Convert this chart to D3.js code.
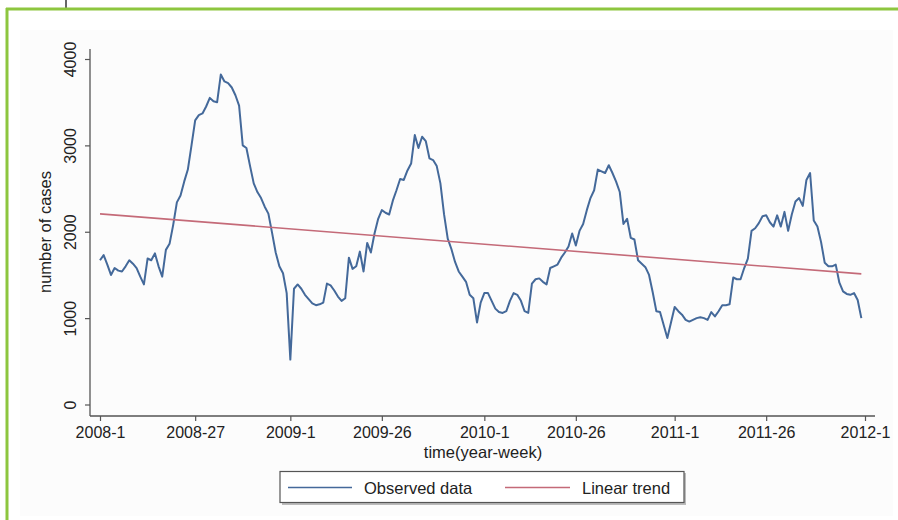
<!DOCTYPE html>
<html>
<head>
<meta charset="utf-8">
<script src="https://cdn.jsdelivr.net/npm/d3@7"></script>
<style>
  html, body { margin: 0; padding: 0; background: #ffffff; }
  svg { display: block; font-family: "Liberation Sans", Arial, sans-serif; }
</style>
</head>
<body>
<svg id="chart" width="898" height="520"></svg>
<script>
// Weekly observed number of cases, 2008-1 .. 2011-52 (week index 0..208)
const cases = [
  1670,1730,1620,1500,1580,1550,1540,1600,1670,1630,
  1580,1480,1390,1690,1670,1750,1600,1480,1790,1860,
  2080,2340,2420,2580,2720,3000,3290,3350,3370,3450,
  3550,3510,3500,3820,3740,3720,3670,3580,3460,3000,
  2970,2760,2560,2460,2390,2290,2210,1990,1760,1600,
  1520,1290,520,1340,1390,1340,1270,1220,1170,1150,
  1160,1180,1400,1380,1320,1250,1200,1230,1700,1570,
  1600,1770,1540,1870,1760,1980,2150,2250,2220,2200,
  2360,2480,2610,2600,2710,2790,3120,2970,3100,3050,
  2850,2830,2760,2560,2200,1920,1800,1650,1540,1480,
  1420,1270,1230,950,1180,1290,1290,1200,1110,1070,
  1060,1080,1200,1290,1270,1200,1080,1060,1400,1450,
  1460,1420,1390,1580,1600,1620,1700,1760,1830,1980,
  1840,2010,2090,2250,2390,2480,2720,2700,2680,2770,
  2680,2580,2460,2090,2150,1930,1910,1670,1630,1590,
  1500,1300,1080,1070,920,770,950,1130,1080,1040,
  980,960,980,1000,1010,1000,980,1070,1020,1080,
  1150,1150,1160,1470,1450,1450,1580,1690,2010,2040,
  2100,2180,2190,2110,2060,2190,2060,2230,2010,2200,
  2350,2390,2300,2600,2680,2130,2060,1880,1640,1600,
  1600,1620,1410,1310,1280,1270,1290,1210,1000
];
// Linear trend: value at first and last observed week
const trendEnds = [2207, 1512];
// X axis ticks (week index) and labels
const xTickWeeks = [0, 26, 52, 77, 105, 130, 157, 182, 209];
const xTickLabels = ["2008-1","2008-27","2009-1","2009-26","2010-1","2010-26","2011-1","2011-26","2012-1"];
const yTicks = [0, 1000, 2000, 3000, 4000];
const legendLabels = ["Observed data", "Linear trend"];

const svg = d3.select("#chart");
const blue = "#44699a", red = "#c46a78", axisCol = "#555555";

// frame
svg.append("rect").attr("x", 20).attr("y", 30).attr("width", 873).attr("height", 486).attr("fill", "#fcfcfc");
svg.append("line").attr("x1", 66).attr("x2", 66).attr("y1", 0).attr("y2", 9).attr("stroke", "#333").attr("stroke-width", 1.5);
svg.append("line").attr("x1", 6).attr("x2", 898).attr("y1", 9).attr("y2", 9).attr("stroke", "#8dc63f").attr("stroke-width", 3);
svg.append("line").attr("x1", 7).attr("x2", 7).attr("y1", 8).attr("y2", 520).attr("stroke", "#8dc63f").attr("stroke-width", 3);

const x = d3.scaleLinear().domain([0, 209]).range([100, 865]);
const y = d3.scaleLinear().domain([0, 4000]).range([404.5, 59]);

// axes
const xAxis = svg.append("g").attr("transform", "translate(0,416)")
  .call(d3.axisBottom(x).tickValues(xTickWeeks).tickFormat((d, i) => xTickLabels[i]).tickSize(5).tickPadding(6).tickSizeOuter(0));
xAxis.select(".domain").attr("d", "M90,0H875");
const yAxis = svg.append("g").attr("transform", "translate(90,0)")
  .call(d3.axisLeft(y).tickValues(yTicks).tickFormat(d3.format("d")).tickSize(5).tickSizeOuter(0));
yAxis.select(".domain").attr("d", "M0,49V416");
[xAxis, yAxis].forEach(g => {
  g.selectAll(".domain").attr("stroke", axisCol).attr("stroke-width", 1.3);
  g.selectAll(".tick line").attr("stroke", axisCol).attr("stroke-width", 1.2);
  g.selectAll("text").attr("fill", "#222").attr("font-size", 16).attr("font-family", "Liberation Sans, Arial, sans-serif");
});
yAxis.selectAll(".tick text")
  .attr("x", 0).attr("dy", 0)
  .attr("transform", "translate(-14,0) rotate(-90)")
  .attr("text-anchor", "middle");

// axis titles
svg.append("text").attr("x", 483).attr("y", 458).attr("text-anchor", "middle")
  .attr("font-size", 16.5).attr("fill", "#222").text("time(year-week)");
svg.append("text").attr("transform", "translate(51,232) rotate(-90)").attr("text-anchor", "middle")
  .attr("font-size", 16.5).attr("fill", "#222").text("number of cases");

// lines
const line = d3.line().x((d, i) => x(i)).y(d => y(d));
svg.append("path").datum(cases).attr("d", line).attr("fill", "none")
  .attr("stroke", blue).attr("stroke-width", 2).attr("stroke-linejoin", "round");
svg.append("line")
  .attr("x1", x(0)).attr("y1", y(trendEnds[0]))
  .attr("x2", x(cases.length - 1)).attr("y2", y(trendEnds[1]))
  .attr("stroke", red).attr("stroke-width", 1.6);

// legend
const lg = svg.append("g");
lg.append("rect").attr("x", 282).attr("y", 473).attr("width", 404).attr("height", 32).attr("fill", "#bbb");
lg.append("rect").attr("x", 280).attr("y", 471.5).attr("width", 404).attr("height", 31)
  .attr("fill", "#fff").attr("stroke", "#555").attr("stroke-width", 1.2);
lg.append("line").attr("x1", 288).attr("x2", 352).attr("y1", 487.5).attr("y2", 487.5).attr("stroke", blue).attr("stroke-width", 1.6);
lg.append("text").attr("x", 364).attr("y", 493.5).attr("font-size", 16.5).attr("fill", "#222").text(legendLabels[0]);
lg.append("line").attr("x1", 505).attr("x2", 570).attr("y1", 487.5).attr("y2", 487.5).attr("stroke", red).attr("stroke-width", 1.6);
lg.append("text").attr("x", 582).attr("y", 493.5).attr("font-size", 16.5).attr("fill", "#222").text(legendLabels[1]);
</script>
</body>
</html>
